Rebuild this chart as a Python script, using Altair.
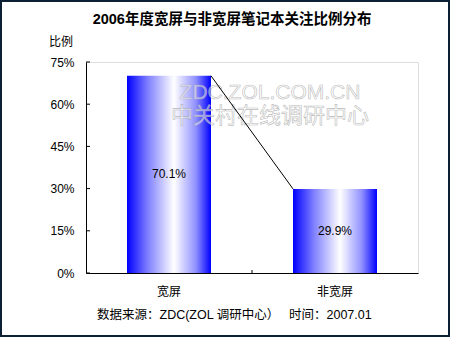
import altair as alt
import pandas as pd

categories = ["宽屏", "非宽屏"]
shares = [0.701, 0.299]
labels = ["70.1%", "29.9%"]
y_ticks = [0, 0.15, 0.30, 0.45, 0.60, 0.75]
title_text = "2006年度宽屏与非宽屏笔记本关注比例分布"
y_title = "比例"
source_text = "数据来源：ZDC(ZOL 调研中心）"
time_text = "时间：2007.01"
wm_line1 = "ZDC.ZOL.COM.CN"
wm_line2 = "中关村在线调研中心"

FONT = "Arial, 'Liberation Sans', 'Noto Sans CJK SC', sans-serif"

df = pd.DataFrame({"cat": categories, "share": shares, "label": labels})
df["half"] = df["share"] / 2
conn = pd.DataFrame({"c1": [categories[0]], "c2": [categories[1]],
                     "v1": [shares[0]], "v2": [shares[1]]})
ticks_df = pd.DataFrame({"t": y_ticks})

W, H = 332, 211
PL, PT = 86, 62

xscale = alt.Scale(domain=categories, paddingInner=0.494, paddingOuter=0.247)
yscale = alt.Scale(domain=[0, 0.75])

grad = alt.Gradient(
    gradient="linear",
    stops=[alt.GradientStop(color="#0000ff", offset=0),
           alt.GradientStop(color="#8080ff", offset=0.25),
           alt.GradientStop(color="#ffffff", offset=0.56),
           alt.GradientStop(color="#9090ff", offset=0.82),
           alt.GradientStop(color="#0000ff", offset=1)],
    x1=0, x2=1, y1=0, y2=0)

bars = alt.Chart(df).mark_bar(color=grad).encode(
    x=alt.X("cat:N", scale=xscale, sort=categories,
            axis=alt.Axis(title=None, labelAngle=0, ticks=False, labelPadding=13,
                          labelFontSize=12, labelColor="black", labelFont=FONT,
                          domainColor="black", domainWidth=1)),
    y=alt.Y("share:Q", scale=yscale,
            axis=alt.Axis(title=None, values=y_ticks, format=".0%", ticks=False,
                          grid=False, labelPadding=12, labelFontSize=12,
                          labelColor="black", labelFont=FONT,
                          domainColor="black", domainWidth=1)),
)

bar_text = alt.Chart(df).mark_text(fontSize=12, font=FONT, color="black").encode(
    x=alt.X("cat:N", scale=xscale, sort=categories),
    y=alt.Y("half:Q", scale=yscale),
    text="label:N",
)

connector = alt.Chart(conn).mark_rule(color="black", strokeWidth=1).encode(
    x=alt.X("c1:N", scale=xscale, bandPosition=1),
    x2=alt.X2("c2:N", bandPosition=0),
    y=alt.Y("v1:Q", scale=yscale),
    y2="v2:Q",
)

yt = alt.Chart(ticks_df).mark_rule(color="black").encode(
    x=alt.value(0), x2=alt.value(4),
    y=alt.Y("t:Q", scale=yscale),
)
xt = alt.Chart(ticks_df.head(1)).mark_rule(color="black").encode(
    x=alt.value(W / 2), y=alt.value(H - 3), y2=alt.value(H),
)


def txt(s, x, y, size=12, bold=False, align="center", fill="black", **kw):
    return alt.Chart(pd.DataFrame({"s": [s]})).mark_text(
        fontSize=size, font=FONT, fontWeight="bold" if bold else "normal",
        align=align, baseline="middle", fill=fill, **kw
    ).encode(x=alt.value(x), y=alt.value(y), text="s:N")


wm1 = txt(wm_line1, 270 - PL, 93 - PT, size=21, fill="#ffffff", fillOpacity=0.5,
          stroke="#a8a8a8", strokeWidth=0.6, strokeOpacity=0.8)
wm2 = txt(wm_line2, 270 - PL, 116 - PT, size=22, fill="#ffffff", fillOpacity=0.5,
          stroke="#a8a8a8", strokeWidth=0.6, strokeOpacity=0.8)

title = txt(title_text, 232 - PL, 20 - PT, size=14.5, bold=True)
ytitle = txt(y_title, 61 - PL, 42 - PT, size=12)
src = txt(source_text, 97 - PL, 315 - PT, size=12.5, align="left")
tm = txt(time_text, 289 - PL, 315 - PT, size=12.5, align="left")

border = alt.Chart(ticks_df.head(1)).mark_rect(
    fill=None, stroke="#0c1f33", strokeWidth=2
).encode(x=alt.value(1 - PL), x2=alt.value(449 - PL),
         y=alt.value(1 - PT), y2=alt.value(336 - PT))

chart = alt.layer(
    bars, wm1, wm2, bar_text, connector, yt, xt, title, ytitle, src, tm, border
).properties(
    width=W, height=H,
    autosize=alt.AutoSizeParams(type="none"),
    padding={"left": PL, "top": PT, "right": 450 - PL - W, "bottom": 337 - PT - H},
).configure_view(stroke=None).configure(background="white")

chart.save("out.html", embed_options={"renderer": "svg", "actions": False})
